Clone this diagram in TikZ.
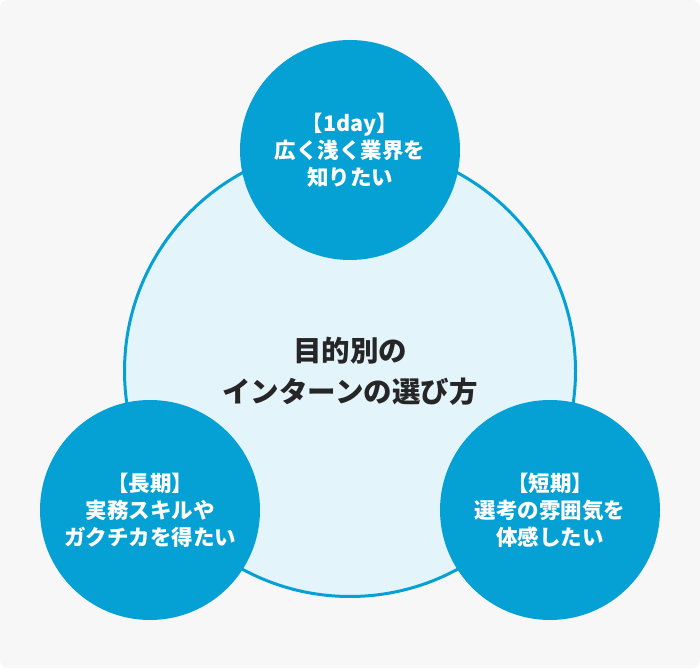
\documentclass[tikz,border=0pt]{standalone}
\usepackage{fontspec}
\setmainfont{Noto Sans CJK JP}
\usetikzlibrary{positioning}

\definecolor{bgray}{HTML}{F7F7F8}
\definecolor{cblue}{HTML}{05A0D4}
\definecolor{lblue}{HTML}{E4F4FB}
\definecolor{ink}{HTML}{262626}

\begin{document}
\begin{tikzpicture}[
  x=1pt, y=1pt,
  every node/.style={align=center, inner sep=0pt},
  hub/.style={circle, draw=cblue, line width=3pt, fill=lblue,
    minimum size=451pt, text=ink, font=\fontsize{28.5}{41}\selectfont\bfseries},
  goal/.style={circle, fill=cblue, minimum size=220pt, text=white,
    font=\fontsize{21.5}{27}\selectfont\bfseries}
]
  \useasboundingbox (0,0) rectangle (700,668);
  \fill[white] (0,0) rectangle (700,668);
  \fill[bgray, rounded corners=8pt] (0,0) rectangle (700,668);

  \node[hub] (hub) at (350,297) {目的別の\\インターンの選び方};

  \node[goal] (oneday) at (350,518) {【1day】\\広く浅く業界を\\知りたい};
  \node[goal] (long)   at (150,158) {【長期】\\実務スキルや\\ガクチカを得たい};
  \node[goal] (short)  at (550,158) {【短期】\\選考の雰囲気を\\体感したい};
\end{tikzpicture}
\end{document}
